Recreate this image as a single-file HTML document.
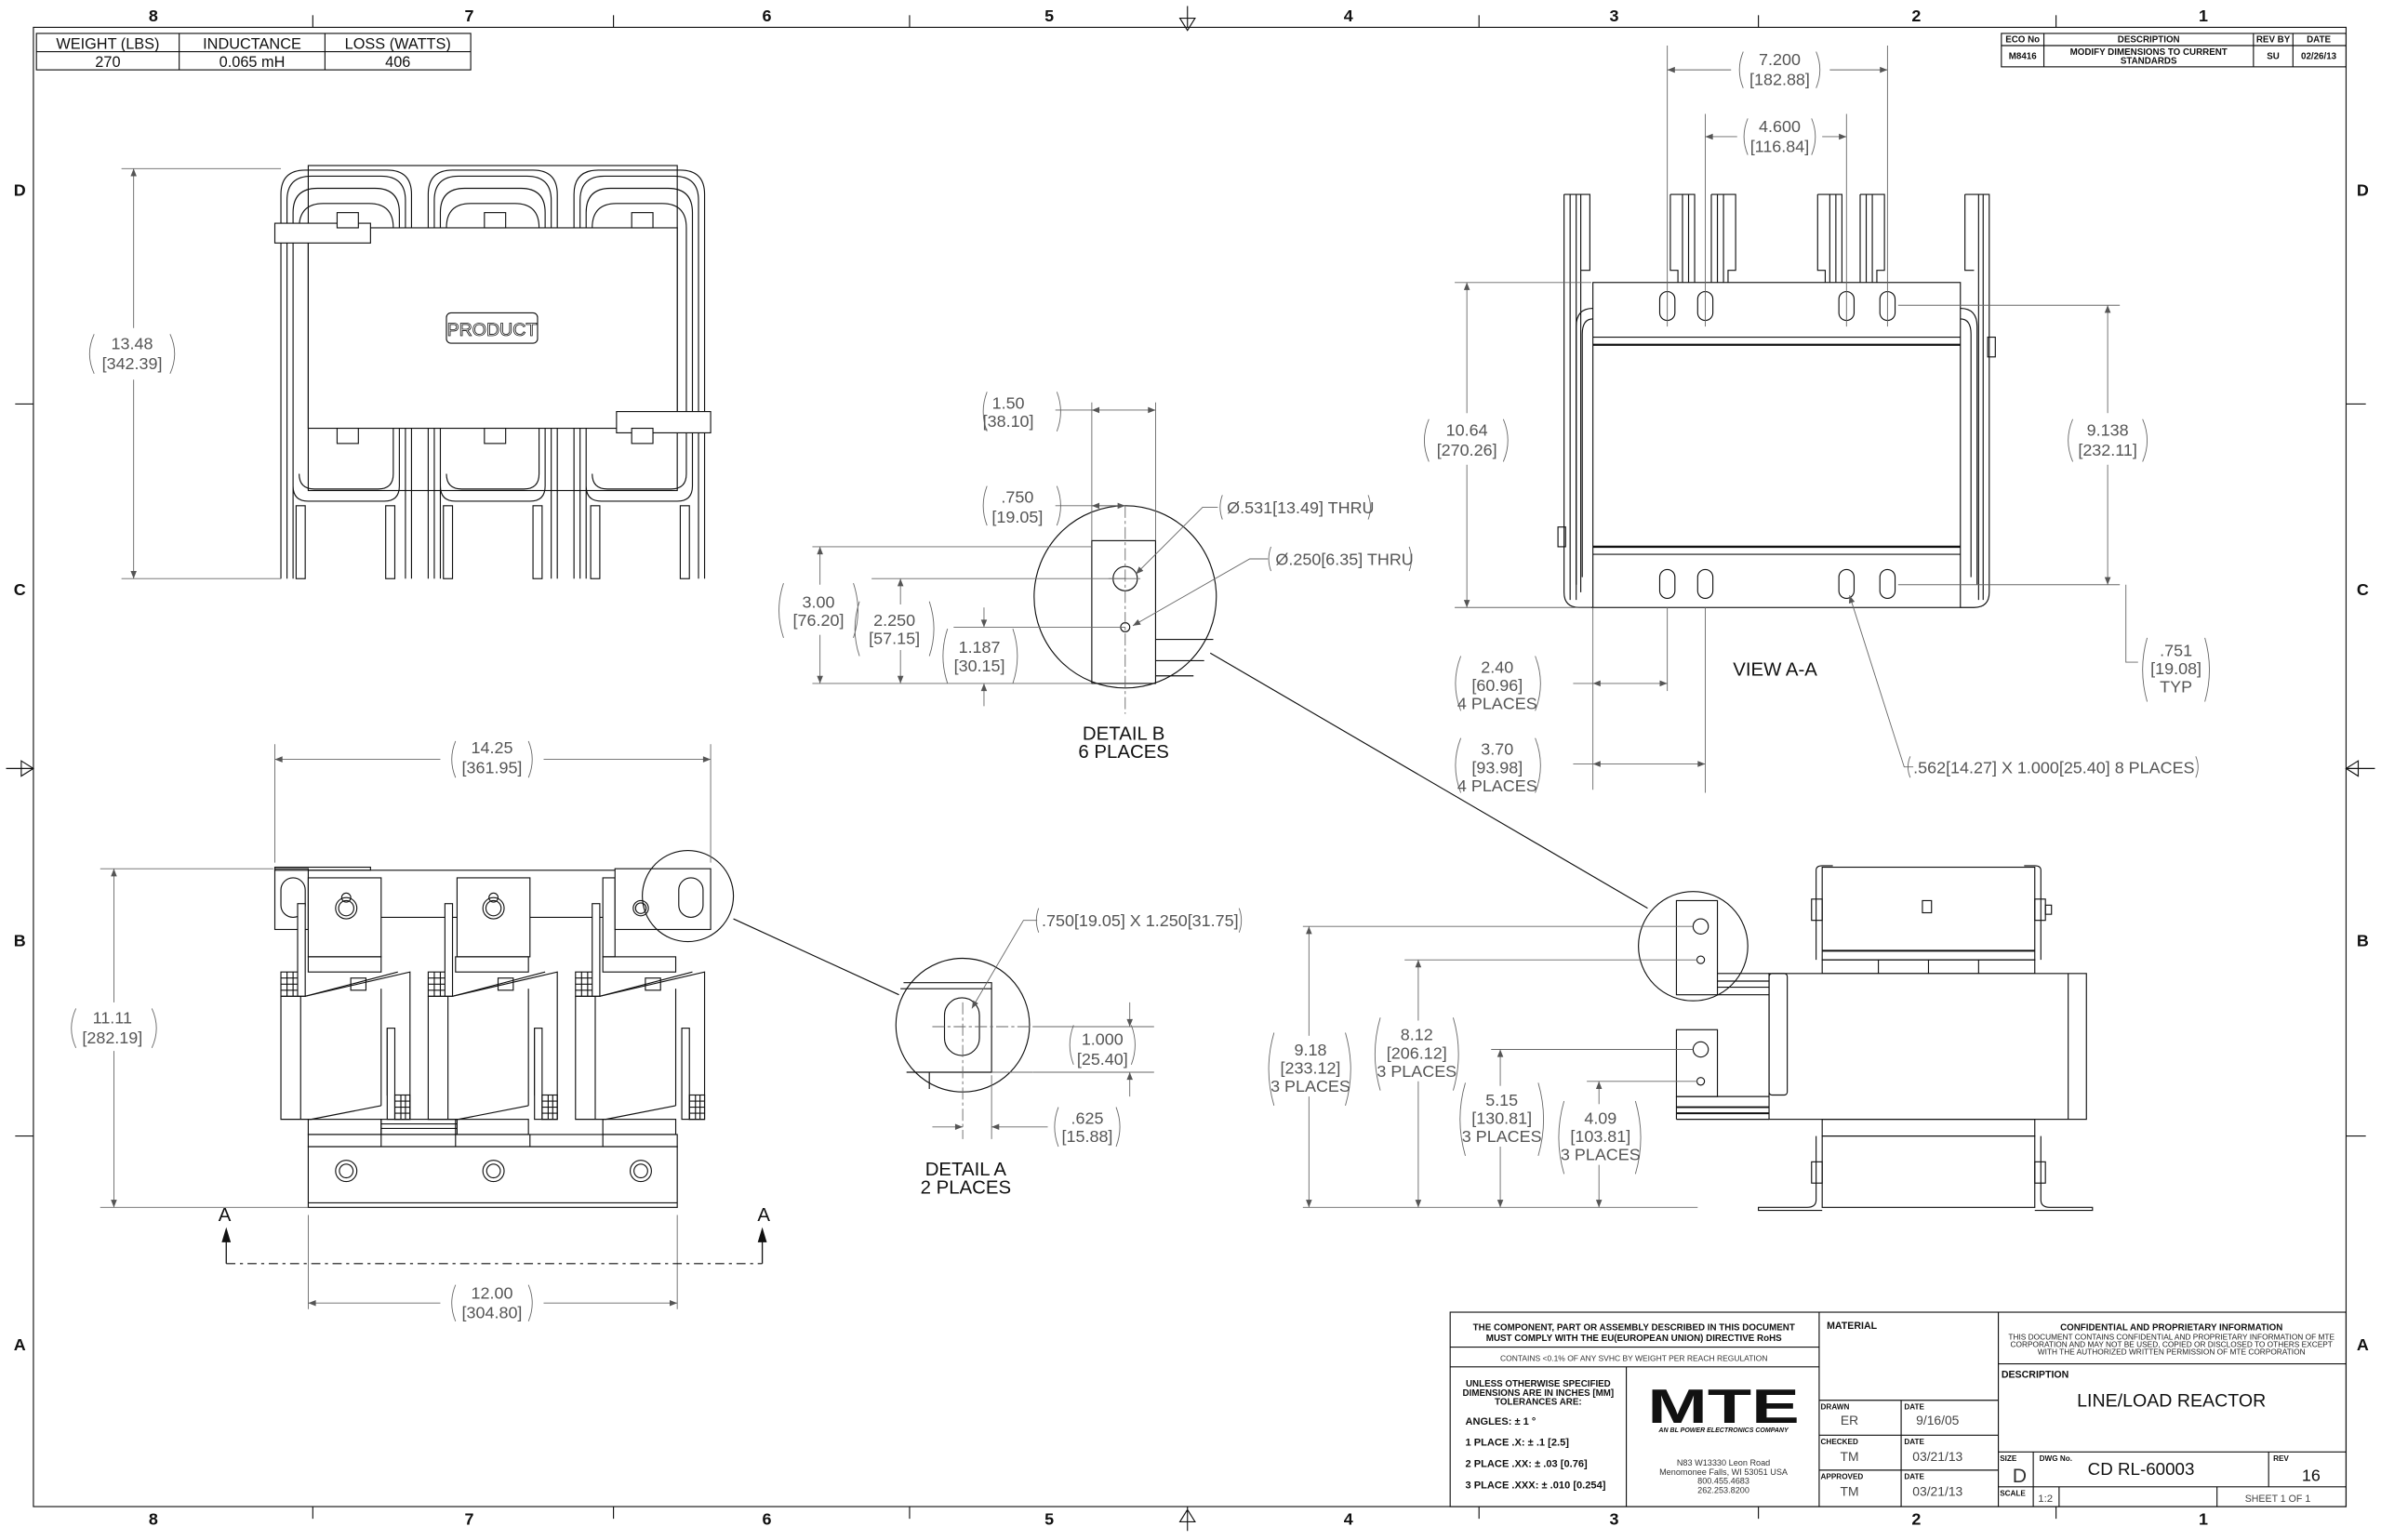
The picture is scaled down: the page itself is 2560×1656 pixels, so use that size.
<!DOCTYPE html>
<html><head><meta charset="utf-8"><style>
html,body{margin:0;padding:0;background:#fff}
svg{display:block}
text{font-family:"Liberation Sans",Arial,sans-serif}
.k{stroke:#111;stroke-width:.7;fill:none}
.kf{stroke:#111;stroke-width:.7;fill:#fff}
.d{stroke:#666;stroke-width:.55;fill:none}
.g{fill:#555;font-size:11px;text-anchor:middle}
.gl{fill:#555;font-size:11px}
.b{fill:#111;font-size:12.5px;text-anchor:middle}
.t{fill:#111;font-size:6px;text-anchor:middle;font-weight:bold}
</style></head><body>
<svg width="2560" height="1656" viewBox="0 0 1568 1014" preserveAspectRatio="none" xmlns="http://www.w3.org/2000/svg">
<defs>
<marker id="a" viewBox="0 0 10 10" refX="10" refY="5" markerWidth="7" markerHeight="5" orient="auto-start-reverse" markerUnits="userSpaceOnUse"><path d="M0,1 L10,5 L0,9z" fill="#555"/></marker>
</defs>
<rect width="1568" height="1014" fill="#fff"/>
<!-- border -->
<rect x="22" y="18" width="1523" height="974" class="k"/>
<g class="k">
<line x1="206" y1="10" x2="206" y2="18"/><line x1="404" y1="10" x2="404" y2="18"/><line x1="599" y1="10" x2="599" y2="18"/><line x1="974" y1="10" x2="974" y2="18"/><line x1="1158" y1="10" x2="1158" y2="18"/><line x1="1354" y1="10" x2="1354" y2="18"/>
<line x1="206" y1="992" x2="206" y2="1000"/><line x1="404" y1="992" x2="404" y2="1000"/><line x1="599" y1="992" x2="599" y2="1000"/><line x1="974" y1="992" x2="974" y2="1000"/><line x1="1158" y1="992" x2="1158" y2="1000"/><line x1="1354" y1="992" x2="1354" y2="1000"/>
<line x1="10" y1="266" x2="22" y2="266"/><line x1="10" y1="748" x2="22" y2="748"/><line x1="1545" y1="266" x2="1558" y2="266"/><line x1="1545" y1="748" x2="1558" y2="748"/>
<path d="M782,4 V18 M777,12 L782,20 L787,12z M782,992 V1008 M777,1002 L782,994 L787,1002z M4,506 H22 M14,501 L22,506 L14,511z M1545,506 H1564 M1553,501 L1545,506 L1553,511z"/>
</g>
<g fill="#111" font-size="11" text-anchor="middle" font-weight="bold">
<text x="101" y="14">8</text><text x="309" y="14">7</text><text x="505" y="14">6</text><text x="691" y="14">5</text><text x="888" y="14">4</text><text x="1063" y="14">3</text><text x="1262" y="14">2</text><text x="1451" y="14">1</text>
<text x="101" y="1004">8</text><text x="309" y="1004">7</text><text x="505" y="1004">6</text><text x="691" y="1004">5</text><text x="888" y="1004">4</text><text x="1063" y="1004">3</text><text x="1262" y="1004">2</text><text x="1451" y="1004">1</text>
<text x="13" y="129">D</text><text x="13" y="392">C</text><text x="13" y="623">B</text><text x="13" y="889">A</text>
<text x="1556" y="129">D</text><text x="1556" y="392">C</text><text x="1556" y="623">B</text><text x="1556" y="889">A</text>
</g>
<!-- top-left table -->
<rect x="24" y="22" width="286" height="24" class="k"/>
<line x1="24" y1="34" x2="310" y2="34" class="k"/><line x1="118" y1="22" x2="118" y2="46" class="k"/><line x1="214" y1="22" x2="214" y2="46" class="k"/>
<g fill="#111" font-size="10" text-anchor="middle"><text x="71" y="32">WEIGHT (LBS)</text><text x="166" y="32">INDUCTANCE</text><text x="262" y="32">LOSS (WATTS)</text>
<text x="71" y="44">270</text><text x="166" y="44">0.065 mH</text><text x="262" y="44">406</text></g>
<!-- ECO table -->
<rect x="1318" y="22" width="227" height="22" class="k"/>
<line x1="1318" y1="30" x2="1545" y2="30" class="k"/><line x1="1346" y1="22" x2="1346" y2="44" class="k"/><line x1="1484" y1="22" x2="1484" y2="44" class="k"/><line x1="1510" y1="22" x2="1510" y2="44" class="k"/>
<g class="t" font-size="5"><text x="1332" y="28">ECO No</text><text x="1415" y="28">DESCRIPTION</text><text x="1497" y="28">REV BY</text><text x="1527" y="28">DATE</text></g>
<g class="t"><text x="1332" y="39">M8416</text><text x="1415" y="36">MODIFY DIMENSIONS TO CURRENT</text><text x="1415" y="42">STANDARDS</text><text x="1497" y="39">SU</text><text x="1527" y="39">02/26/13</text></g>

<!-- ========== TOP-LEFT VIEW ========== -->
<rect x="203" y="109" width="243" height="214" class="k"/>
<g class="k">
<!-- coils -->
<path d="M185,381 V128 Q185,112 201,112 H255 Q271,112 271,128 V381"/>
<path d="M189,381 V132 Q189,116 205,116 H251 Q267,116 267,132 V381"/>
<path d="M193,381 V140 Q193,124 209,124 H247 Q263,124 263,140 V320 Q263,330 253,330 H203 Q193,330 193,320"/>
<path d="M197,150 Q197,134 213,134 H243 Q259,134 259,150 V312 Q259,322 249,322 H207 Q197,322 197,312"/>
<path d="M282,381 V128 Q282,112 298,112 H351 Q367,112 367,128 V381"/>
<path d="M286,381 V132 Q286,116 302,116 H347 Q363,116 363,132 V381"/>
<path d="M290,381 V140 Q290,124 306,124 H343 Q359,124 359,140 V320 Q359,330 349,330 H300 Q290,330 290,320"/>
<path d="M294,150 Q294,134 310,134 H339 Q355,134 355,150 V312 Q355,322 345,322 H304 Q294,322 294,312"/>
<path d="M378,381 V128 Q378,112 394,112 H448 Q464,112 464,128 V381"/>
<path d="M382,381 V132 Q382,116 398,116 H444 Q460,116 460,132 V381"/>
<path d="M386,381 V140 Q386,124 402,124 H440 Q456,124 456,140 V320 Q456,330 446,330 H396 Q386,330 386,320"/>
<path d="M390,150 Q390,134 406,134 H436 Q452,134 452,150 V312 Q452,322 442,322 H400 Q390,322 390,312"/>
<!-- foot tabs -->
<rect x="195" y="333" width="6" height="48"/><rect x="254" y="333" width="6" height="48"/><rect x="292" y="333" width="6" height="48"/><rect x="351" y="333" width="6" height="48"/><rect x="389" y="333" width="6" height="48"/><rect x="448" y="333" width="6" height="48"/>
</g>
<rect x="203" y="150" width="243" height="132" class="kf" stroke-width="1.2"/>
<rect x="181" y="147" width="63" height="13" class="kf"/>
<rect x="406" y="271" width="62" height="14" class="kf"/>
<g class="kf"><rect x="222" y="140" width="14" height="10"/><rect x="319" y="140" width="14" height="10"/><rect x="416" y="140" width="14" height="10"/>
<rect x="222" y="282" width="14" height="10"/><rect x="319" y="282" width="14" height="10"/><rect x="416" y="282" width="14" height="10"/></g>
<rect x="294" y="206" width="60" height="20" rx="3" class="k"/>
<text x="324" y="221" font-size="12" fill="#fff" stroke="#111" stroke-width=".5" text-anchor="middle">PRODUCT</text>
<!-- 13.48 dim -->
<g class="d"><line x1="80" y1="111" x2="185" y2="111"/><line x1="80" y1="381" x2="185" y2="381"/>
<line x1="88" y1="111" x2="88" y2="216" marker-start="url(#a)"/><line x1="88" y1="250" x2="88" y2="381" marker-end="url(#a)"/>
<path d="M62,220 Q56,233 62,246 M112,220 Q118,233 112,246"/></g>
<text x="87" y="230" class="g">13.48</text><text x="87" y="243" class="g">[342.39]</text>

<!-- ========== BOTTOM-LEFT VIEW ========== -->
<g class="k">
<line x1="203" y1="573" x2="468" y2="573"/>
<rect x="181" y="572" width="22" height="40" class="kf"/>
<rect x="185" y="578" width="16" height="26" rx="8"/>
<rect x="181" y="571" width="63" height="2"/>
<rect x="203" y="578" width="48" height="52" class="kf"/>
<rect x="301" y="578" width="48" height="52" class="kf"/>
<rect x="397" y="578" width="8" height="52"/>
<line x1="251" y1="604" x2="301" y2="604"/><line x1="349" y1="604" x2="397" y2="604"/>
<rect x="405" y="572" width="63" height="40" class="kf"/>
<rect x="447" y="578" width="16" height="26" rx="8"/>
<circle cx="228" cy="598" r="7"/><circle cx="228" cy="598" r="5"/><circle cx="228" cy="591" r="3"/>
<circle cx="325" cy="598" r="7"/><circle cx="325" cy="598" r="5"/><circle cx="325" cy="591" r="3"/>
<circle cx="422" cy="598" r="5"/><circle cx="422" cy="598" r="3.5"/>
<circle cx="453" cy="590" r="30"/>
<line x1="483" y1="605" x2="592" y2="655"/>
</g>
<!-- three coils -->
<g id="coil" class="k">
<rect x="203" y="630" width="48" height="10"/>
<rect x="185" y="640" width="13" height="16" class="kf"/>
<path d="M185,644 H198 M185,648 H198 M185,652 H198 M189,640 V656 M193,640 V656"/>
<rect x="196" y="595" width="5" height="61" class="kf"/>
<path d="M185,656 H201 L270,640 V737 L260,737 V721 H255 V677 M198,656 V737 M185,656 V737 H205 L251,728"/>
<path d="M201,656 L262,640"/>
<rect x="255" y="677" width="5" height="60" class="kf"/>
<rect x="260" y="721" width="10" height="16"/>
<path d="M260,725 H270 M260,729 H270 M260,733 H270 M264,721 V737 M267,721 V737"/>
<rect x="231" y="644" width="10" height="8"/>
<rect x="203" y="737" width="48" height="10"/>
<line x1="251" y1="651" x2="251" y2="728"/>
</g>
<use href="#coil" x="97"/>
<use href="#coil" x="194"/>
<g class="k">
<rect x="251" y="737" width="50" height="10"/><line x1="251" y1="740" x2="301" y2="740"/><line x1="251" y1="743" x2="301" y2="743"/>
<rect x="203" y="747" width="243" height="8"/>
<line x1="251" y1="747" x2="251" y2="755"/><line x1="300" y1="747" x2="300" y2="755"/><line x1="349" y1="747" x2="349" y2="755"/><line x1="397" y1="747" x2="397" y2="755"/>
<rect x="203" y="755" width="243" height="40"/><line x1="203" y1="792" x2="446" y2="792"/>
<circle cx="228" cy="771" r="7"/><circle cx="228" cy="771" r="4.5"/>
<circle cx="325" cy="771" r="7"/><circle cx="325" cy="771" r="4.5"/>
<circle cx="422" cy="771" r="7"/><circle cx="422" cy="771" r="4.5"/>
</g>
<!-- dims bottom-left -->
<g class="d">
<line x1="181" y1="490" x2="181" y2="568"/><line x1="468" y1="490" x2="468" y2="568"/>
<line x1="181" y1="500" x2="290" y2="500" marker-start="url(#a)"/><line x1="358" y1="500" x2="468" y2="500" marker-end="url(#a)"/>
<path d="M300,488 Q295,500 300,512 M348,488 Q353,500 348,512"/>
<line x1="66" y1="572" x2="180" y2="572"/><line x1="66" y1="795" x2="203" y2="795"/>
<line x1="75" y1="572" x2="75" y2="660" marker-start="url(#a)"/><line x1="75" y1="692" x2="75" y2="795" marker-end="url(#a)"/>
<path d="M50,664 Q44,677 50,690 M100,664 Q106,677 100,690"/>
<line x1="203" y1="800" x2="203" y2="862"/><line x1="446" y1="800" x2="446" y2="862"/>
<line x1="203" y1="858" x2="290" y2="858" marker-start="url(#a)"/><line x1="358" y1="858" x2="446" y2="858" marker-end="url(#a)"/>
<path d="M300,846 Q295,858 300,870 M348,846 Q353,858 348,870"/>
</g>
<text x="324" y="496" class="g">14.25</text><text x="324" y="509" class="g">[361.95]</text>
<text x="74" y="674" class="g">11.11</text><text x="74" y="687" class="g">[282.19]</text>
<text x="324" y="855" class="g">12.00</text><text x="324" y="868" class="g">[304.80]</text>
<!-- section A-A -->
<path d="M149,832 H502" stroke="#111" stroke-width=".7" stroke-dasharray="6,3,2,3" fill="none"/>
<path d="M149,832 V815 M502,832 V815" stroke="#111" stroke-width=".8"/>
<path d="M146,818 L149,808 L152,818z M499,818 L502,808 L505,818z" fill="#111"/>
<text x="148" y="804" class="b">A</text><text x="503" y="804" class="b">A</text>

<!-- ========== DETAIL B ========== -->
<g class="k">
<circle cx="741" cy="393" r="60"/>
<rect x="719" y="356" width="42" height="94"/>
<circle cx="741" cy="381" r="8"/>
<circle cx="741" cy="413" r="3"/>
<path d="M761,421 H799 M761,435 H793 M761,445 H786"/>
<line x1="797" y1="430" x2="1085" y2="598"/>
</g>
<g class="d">
<line x1="741" y1="333" x2="741" y2="470" stroke-dasharray="8,2,2,2"/><line x1="730" y1="381" x2="751" y2="381"/>
<line x1="719" y1="265" x2="719" y2="356"/><line x1="761" y1="265" x2="761" y2="356"/>
<line x1="695" y1="270" x2="719" y2="270"/><line x1="719" y1="270" x2="761" y2="270" marker-start="url(#a)" marker-end="url(#a)"/>
<line x1="695" y1="333" x2="741" y2="333"/><line x1="719" y1="333" x2="741" y2="333" marker-start="url(#a)" marker-end="url(#a)"/>
<path d="M650,258 Q645,271 650,284 M696,258 Q701,271 696,284 M650,320 Q645,333 650,346 M696,320 Q701,333 696,346"/>
<line x1="535" y1="360" x2="719" y2="360"/><line x1="535" y1="450" x2="719" y2="450"/>
<line x1="574" y1="381" x2="741" y2="381"/><line x1="628" y1="413" x2="741" y2="413"/>
<line x1="540" y1="360" x2="540" y2="385" marker-start="url(#a)"/><line x1="540" y1="418" x2="540" y2="450" marker-end="url(#a)"/>
<line x1="593" y1="381" x2="593" y2="398" marker-start="url(#a)"/><line x1="593" y1="428" x2="593" y2="450" marker-end="url(#a)"/>
<line x1="648" y1="400" x2="648" y2="413" marker-end="url(#a)"/><line x1="648" y1="465" x2="648" y2="450" marker-end="url(#a)"/>
<path d="M516,384 Q510,402 516,420 M562,384 Q568,402 562,420 M566,396 Q560,414 566,432 M612,396 Q618,414 612,432 M624,414 Q618,432 624,450 M667,414 Q673,432 667,450"/>
<path d="M802,334 H792 L748,378" marker-end="url(#a)"/>
<path d="M835,368 H823 L746,412" marker-end="url(#a)"/>
<path d="M805,326 Q802,334 805,342 M901,326 Q904,334 901,342 M837,360 Q834,368 837,376 M928,360 Q931,368 928,376"/>
</g>
<text x="664" y="269" class="g">1.50</text><text x="664" y="281" class="g">[38.10]</text>
<text x="670" y="331" class="g">.750</text><text x="670" y="344" class="g">[19.05]</text>
<text x="539" y="400" class="g">3.00</text><text x="539" y="412" class="g">[76.20]</text>
<text x="589" y="412" class="g">2.250</text><text x="589" y="424" class="g">[57.15]</text>
<text x="645" y="430" class="g">1.187</text><text x="645" y="442" class="g">[30.15]</text>
<text x="808" y="338" class="gl">Ø.531[13.49] THRU</text>
<text x="840" y="372" class="gl">Ø.250[6.35] THRU</text>
<text x="740" y="487" class="b">DETAIL B</text><text x="740" y="499" class="b">6 PLACES</text>

<!-- ========== DETAIL A ========== -->
<g class="k">
<circle cx="634" cy="675" r="44"/>
<path d="M595,647 H653 V706 H597 M593,651 H653 M612,706 V717"/>
<rect x="622" y="657" width="23" height="38" rx="11.5"/>
</g>
<g class="d">
<line x1="634" y1="660" x2="634" y2="750" stroke-dasharray="8,2,2,2"/><line x1="614" y1="676" x2="680" y2="676" stroke-dasharray="8,2,2,2"/>
<line x1="653" y1="706" x2="680" y2="706"/><line x1="653" y1="708" x2="653" y2="750"/>
<line x1="680" y1="676" x2="760" y2="676"/><line x1="680" y1="706" x2="760" y2="706"/>
<line x1="744" y1="660" x2="744" y2="676" marker-end="url(#a)"/><line x1="744" y1="722" x2="744" y2="706" marker-end="url(#a)"/>
<line x1="614" y1="742" x2="634" y2="742" marker-end="url(#a)"/><line x1="690" y1="742" x2="653" y2="742" marker-end="url(#a)"/>
<path d="M683,606 H674 L640,664" marker-end="url(#a)"/>
<path d="M707,675 Q702,688 707,701 M745,675 Q750,688 745,701 M697,729 Q692,742 697,755 M735,729 Q740,742 735,755 M684,598 Q681,606 684,614 M816,598 Q819,606 816,614"/>
</g>
<text x="686" y="610" class="gl">.750[19.05] X 1.250[31.75]</text>
<text x="726" y="688" class="g">1.000</text><text x="726" y="701" class="g">[25.40]</text>
<text x="716" y="740" class="g">.625</text><text x="716" y="752" class="g">[15.88]</text>
<text x="636" y="774" class="b">DETAIL A</text><text x="636" y="786" class="b">2 PLACES</text>

<!-- ========== VIEW A-A (top right) ========== -->
<g class="k">
<path d="M1030,128 H1047 V178 H1041 M1030,128 V390 Q1030,400 1040,400 H1049 M1034,128 V395 M1038,128 V395 M1041,128 V390"/>
<path d="M1294,128 H1310 V390 Q1310,400 1300,400 H1291 M1294,128 V178 H1300 M1303,128 V395 M1306,128 V395"/>
<path d="M1100,128 H1116 V186 M1100,128 V178 H1105 V186 M1108,128 V186 M1112,128 V186"/>
<path d="M1127,128 H1143 V178 H1138 V186 M1127,128 V186 M1131,128 V186 M1135,128 V186"/>
<path d="M1197,128 H1213 V186 M1197,128 V178 H1202 V186 M1205,128 V186 M1209,128 V186"/>
<path d="M1225,128 H1241 V178 H1236 V186 M1225,128 V186 M1229,128 V186 M1233,128 V186"/>
<path d="M1049,203 Q1038,203 1038,215 V385 M1049,210 Q1042,210 1042,220 V380 M1291,203 Q1302,203 1302,215 V385 M1291,210 Q1298,210 1298,220 V380"/>
<rect x="1049" y="186" width="242" height="214" class="kf"/>
<line x1="1049" y1="222" x2="1291" y2="222"/><line x1="1049" y1="227" x2="1291" y2="227" stroke-width="1.4"/>
<line x1="1049" y1="360" x2="1291" y2="360" stroke-width="1.4"/><line x1="1049" y1="365" x2="1291" y2="365"/>
<rect x="1309" y="222" width="5" height="13"/><rect x="1026" y="347" width="5" height="13"/>
<rect x="1093" y="192" width="10" height="19" rx="5"/><rect x="1118" y="192" width="10" height="19" rx="5"/><rect x="1211" y="192" width="10" height="19" rx="5"/><rect x="1238" y="192" width="10" height="19" rx="5"/>
<rect x="1093" y="375" width="10" height="19" rx="5"/><rect x="1118" y="375" width="10" height="19" rx="5"/><rect x="1211" y="375" width="10" height="19" rx="5"/><rect x="1238" y="375" width="10" height="19" rx="5"/>
</g>
<g class="d">
<line x1="1098" y1="30" x2="1098" y2="215"/><line x1="1243" y1="30" x2="1243" y2="215"/>
<line x1="1098" y1="46" x2="1140" y2="46" marker-start="url(#a)"/><line x1="1205" y1="46" x2="1243" y2="46" marker-end="url(#a)"/>
<line x1="1123" y1="75" x2="1123" y2="215"/><line x1="1216" y1="75" x2="1216" y2="215"/>
<line x1="1123" y1="90" x2="1144" y2="90" marker-start="url(#a)"/><line x1="1200" y1="90" x2="1216" y2="90" marker-end="url(#a)"/>
<path d="M1148,34 Q1143,46 1148,58 M1196,34 Q1201,46 1196,58 M1151,78 Q1146,90 1151,102 M1193,78 Q1198,90 1193,102"/>
<line x1="958" y1="186" x2="1048" y2="186"/><line x1="958" y1="400" x2="1048" y2="400"/>
<line x1="966" y1="186" x2="966" y2="272" marker-start="url(#a)"/><line x1="966" y1="306" x2="966" y2="400" marker-end="url(#a)"/>
<path d="M941,276 Q935,290 941,304 M990,276 Q996,290 990,304"/>
<line x1="1250" y1="201" x2="1396" y2="201"/><line x1="1250" y1="385" x2="1396" y2="385"/>
<line x1="1388" y1="201" x2="1388" y2="272" marker-start="url(#a)"/><line x1="1388" y1="306" x2="1388" y2="385" marker-end="url(#a)"/>
<path d="M1365,276 Q1359,290 1365,304 M1411,276 Q1417,290 1411,304"/>
<path d="M1400,385 V436 H1408"/>
<path d="M1414,420 Q1408,441 1414,462 M1452,420 Q1458,441 1452,462"/>
<line x1="1049" y1="400" x2="1049" y2="520"/><line x1="1098" y1="400" x2="1098" y2="455"/><line x1="1123" y1="400" x2="1123" y2="522"/>
<line x1="1036" y1="450" x2="1049" y2="450"/><line x1="1049" y1="450" x2="1098" y2="450" marker-start="url(#a)" marker-end="url(#a)"/>
<line x1="1036" y1="503" x2="1049" y2="503"/><line x1="1049" y1="503" x2="1123" y2="503" marker-start="url(#a)" marker-end="url(#a)"/>
<path d="M962,432 Q955,450 962,468 M1011,432 Q1018,450 1011,468 M962,486 Q955,504 962,522 M1011,486 Q1018,504 1011,522"/>
<path d="M1260,505 H1254 L1218,392" marker-end="url(#a)"/>
<path d="M1258,498 Q1255,505 1258,512 M1446,498 Q1449,505 1446,512"/>
</g>
<text x="1172" y="43" class="g">7.200</text><text x="1172" y="56" class="g">[182.88]</text>
<text x="1172" y="87" class="g">4.600</text><text x="1172" y="100" class="g">[116.84]</text>
<text x="966" y="287" class="g">10.64</text><text x="966" y="300" class="g">[270.26]</text>
<text x="1388" y="287" class="g">9.138</text><text x="1388" y="300" class="g">[232.11]</text>
<text x="1433" y="432" class="g">.751</text><text x="1433" y="444" class="g">[19.08]</text><text x="1433" y="456" class="g">TYP</text>
<text x="986" y="443" class="g">2.40</text><text x="986" y="455" class="g">[60.96]</text><text x="986" y="467" class="g">4 PLACES</text>
<text x="986" y="497" class="g">3.70</text><text x="986" y="509" class="g">[93.98]</text><text x="986" y="521" class="g">4 PLACES</text>
<text x="1169" y="445" class="b">VIEW A-A</text>
<text x="1260" y="509" class="gl">.562[14.27] X 1.000[25.40] 8 PLACES</text>

<!-- ========== SIDE VIEW ========== -->
<g class="k">
<path d="M1196,632 V573 Q1196,570 1200,570 H1207 M1344,632 V573 Q1344,570 1340,570 H1333"/>
<rect x="1200" y="571" width="140" height="61" class="kf"/>
<line x1="1200" y1="626" x2="1340" y2="626" stroke-width="1.2"/>
<rect x="1200" y="632" width="140" height="9"/>
<line x1="1237" y1="632" x2="1237" y2="641"/><line x1="1270" y1="632" x2="1270" y2="641"/><line x1="1303" y1="632" x2="1303" y2="641"/>
<rect x="1266" y="593" width="6" height="8"/>
<rect x="1193" y="592" width="7" height="14"/><rect x="1340" y="592" width="7" height="14"/><rect x="1347" y="596" width="4" height="6"/>
<rect x="1165" y="641" width="209" height="96" class="kf"/>
<line x1="1362" y1="641" x2="1362" y2="737"/>
<rect x="1165" y="641" width="12" height="80" rx="2"/>
<rect x="1200" y="737" width="140" height="11"/>
<rect x="1200" y="748" width="140" height="47"/>
<path d="M1196,748 V790 Q1196,795 1190,795 H1158 V797 H1200 M1344,748 V790 Q1344,795 1350,795 H1378 V797 H1340"/>
<rect x="1193" y="765" width="7" height="14"/><rect x="1340" y="765" width="7" height="14"/>
<circle cx="1115" cy="623" r="36"/>
<rect x="1104" y="593" width="27" height="62" class="kf"/>
<circle cx="1120" cy="610" r="5"/><circle cx="1120" cy="632" r="2.5"/>
<path d="M1131,641 H1165 M1131,646 H1165 M1131,650 H1165 M1131,655 H1165"/>
<rect x="1104" y="678" width="27" height="44"/>
<circle cx="1120" cy="691" r="5"/><circle cx="1120" cy="712" r="2.5"/>
<path d="M1104,722 H1165 M1104,737 H1165" /><path d="M1104,729 H1165 M1104,733 H1165" stroke-width="1.2"/>
<line x1="1104" y1="722" x2="1104" y2="737"/>
</g>
<g class="d">
<line x1="858" y1="610" x2="1115" y2="610"/><line x1="925" y1="632" x2="1118" y2="632"/>
<line x1="982" y1="691" x2="1115" y2="691"/><line x1="1045" y1="712" x2="1118" y2="712"/>
<line x1="858" y1="795" x2="1118" y2="795"/>
<line x1="862" y1="610" x2="862" y2="682" marker-start="url(#a)"/><line x1="862" y1="722" x2="862" y2="795" marker-end="url(#a)"/>
<line x1="934" y1="632" x2="934" y2="672" marker-start="url(#a)"/><line x1="934" y1="712" x2="934" y2="795" marker-end="url(#a)"/>
<line x1="988" y1="691" x2="988" y2="715" marker-start="url(#a)"/><line x1="988" y1="755" x2="988" y2="795" marker-end="url(#a)"/>
<line x1="1053" y1="712" x2="1053" y2="727" marker-start="url(#a)"/><line x1="1053" y1="767" x2="1053" y2="795" marker-end="url(#a)"/>
<path d="M839,680 Q832,704 839,728 M886,680 Q893,704 886,728 M909,670 Q902,694 909,718 M957,670 Q964,694 957,718 M965,713 Q958,737 965,761 M1013,713 Q1020,737 1013,761 M1030,725 Q1023,749 1030,773 M1077,725 Q1084,749 1077,773"/>
</g>
<text x="863" y="695" class="g">9.18</text><text x="863" y="707" class="g">[233.12]</text><text x="863" y="719" class="g">3 PLACES</text>
<text x="933" y="685" class="g">8.12</text><text x="933" y="697" class="g">[206.12]</text><text x="933" y="709" class="g">3 PLACES</text>
<text x="989" y="728" class="g">5.15</text><text x="989" y="740" class="g">[130.81]</text><text x="989" y="752" class="g">3 PLACES</text>
<text x="1054" y="740" class="g">4.09</text><text x="1054" y="752" class="g">[103.81]</text><text x="1054" y="764" class="g">3 PLACES</text>

<!-- ========== TITLE BLOCK ========== -->
<g class="k">
<rect x="955" y="864" width="590" height="128"/>
<line x1="1198" y1="864" x2="1198" y2="992"/><line x1="1316" y1="864" x2="1316" y2="992"/>
<line x1="955" y1="887" x2="1198" y2="887"/><line x1="955" y1="900" x2="1198" y2="900"/>
<line x1="1071" y1="900" x2="1071" y2="992"/>
<line x1="1198" y1="922" x2="1316" y2="922"/><line x1="1198" y1="945" x2="1316" y2="945"/><line x1="1198" y1="968" x2="1316" y2="968"/>
<line x1="1252" y1="922" x2="1252" y2="992"/>
<line x1="1316" y1="898" x2="1545" y2="898"/><line x1="1316" y1="956" x2="1545" y2="956"/><line x1="1316" y1="979" x2="1545" y2="979"/>
<line x1="1339" y1="956" x2="1339" y2="979"/><line x1="1494" y1="956" x2="1494" y2="979"/>
<line x1="1339" y1="979" x2="1339" y2="992"/><line x1="1356" y1="979" x2="1356" y2="992"/><line x1="1460" y1="979" x2="1460" y2="992"/>
</g>
<g class="t" font-size="6.2"><text x="1076" y="876">THE COMPONENT, PART OR ASSEMBLY DESCRIBED IN THIS DOCUMENT</text><text x="1076" y="883">MUST COMPLY WITH THE EU(EUROPEAN UNION) DIRECTIVE RoHS</text></g>
<text x="1076" y="896" fill="#333" font-size="5.2" text-anchor="middle">CONTAINS &lt;0.1% OF ANY SVHC BY WEIGHT PER REACH REGULATION</text>
<g class="t" font-size="5.6"><text x="1013" y="913">UNLESS OTHERWISE SPECIFIED</text><text x="1013" y="919">DIMENSIONS ARE IN INCHES [MM]</text><text x="1013" y="925">TOLERANCES ARE:</text></g>
<g fill="#111" font-size="6.8" font-weight="bold"><text x="965" y="938">ANGLES: ± 1 °</text><text x="965" y="952">1 PLACE .X: ± .1 [2.5]</text><text x="965" y="966">2 PLACE .XX: ± .03 [0.76]</text><text x="965" y="980">3 PLACE .XXX: ± .010 [0.254]</text></g>
<text x="1135" y="937" font-size="32" font-weight="bold" text-anchor="middle" fill="#111" textLength="100" lengthAdjust="spacingAndGlyphs">MTE</text>
<text x="1135" y="943" font-size="4.3" font-weight="bold" font-style="italic" text-anchor="middle" fill="#111">AN BL POWER ELECTRONICS COMPANY</text>
<g fill="#333" font-size="5.6" text-anchor="middle"><text x="1135" y="965">N83 W13330 Leon Road</text><text x="1135" y="971">Menomonee Falls, WI 53051 USA</text><text x="1135" y="977">800.455.4683</text><text x="1135" y="983">262.253.8200</text></g>
<text x="1203" y="875" fill="#111" font-size="6.5" font-weight="bold">MATERIAL</text>
<g fill="#111" font-size="5" font-weight="bold"><text x="1199" y="928">DRAWN</text><text x="1254" y="928">DATE</text><text x="1199" y="951">CHECKED</text><text x="1254" y="951">DATE</text><text x="1199" y="974">APPROVED</text><text x="1254" y="974">DATE</text></g>
<g fill="#444" font-size="8.5" text-anchor="middle"><text x="1218" y="938">ER</text><text x="1276" y="938">9/16/05</text><text x="1218" y="962">TM</text><text x="1276" y="962">03/21/13</text><text x="1218" y="985">TM</text><text x="1276" y="985">03/21/13</text></g>
<g class="t" font-size="6.2"><text x="1430" y="876">CONFIDENTIAL AND PROPRIETARY INFORMATION</text></g>
<g fill="#222" font-size="5.1" text-anchor="middle"><text x="1430" y="882">THIS DOCUMENT CONTAINS CONFIDENTIAL AND PROPRIETARY INFORMATION OF MTE</text><text x="1430" y="887">CORPORATION AND MAY NOT BE USED, COPIED OR DISCLOSED TO OTHERS EXCEPT</text><text x="1430" y="892">WITH THE AUTHORIZED WRITTEN PERMISSION OF MTE CORPORATION</text></g>
<text x="1318" y="907" fill="#111" font-size="6.5" font-weight="bold">DESCRIPTION</text>
<text x="1430" y="926" fill="#111" font-size="12" text-anchor="middle">LINE/LOAD REACTOR</text>
<g fill="#111" font-size="5" font-weight="bold"><text x="1317" y="962">SIZE</text><text x="1343" y="962">DWG No.</text><text x="1497" y="962">REV</text><text x="1317" y="985">SCALE</text></g>
<text x="1330" y="976" fill="#333" font-size="13" text-anchor="middle">D</text>
<text x="1410" y="971" fill="#111" font-size="11.5" text-anchor="middle">CD RL-60003</text>
<text x="1522" y="975" fill="#111" font-size="11" text-anchor="middle">16</text>
<text x="1347" y="989" fill="#444" font-size="7" text-anchor="middle">1:2</text>
<text x="1500" y="989" fill="#444" font-size="6.5" text-anchor="middle">SHEET 1  OF 1</text>
</svg>
</body></html>
